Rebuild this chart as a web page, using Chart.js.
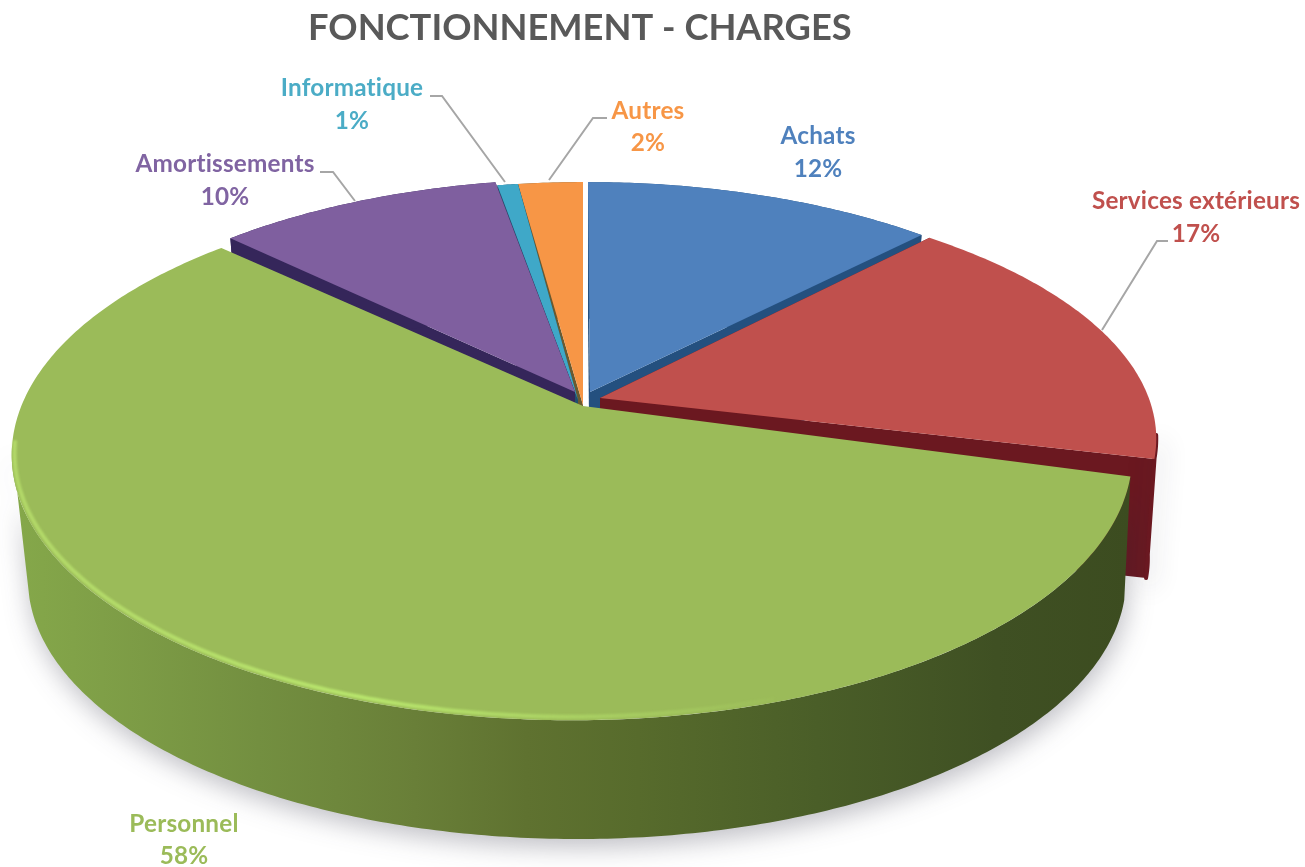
<!DOCTYPE html>
<html lang="fr">
<head>
<meta charset="utf-8">
<title>FONCTIONNEMENT - CHARGES</title>
<script src="https://cdn.jsdelivr.net/npm/chart.js@4"></script>
<style>html,body{margin:0;padding:0;background:#fff}canvas{display:block}</style>
</head>
<body>
<canvas id="c" width="1305" height="867"></canvas>
<script>
const titleText = 'FONCTIONNEMENT - CHARGES';
const categories = ['Achats', 'Services extérieurs', 'Personnel', 'Amortissements', 'Informatique', 'Autres'];
const percentages = [11.9, 17.1, 58.4, 9.7, 0.7, 2.2];
const sliceColors = ['#4f81bd', '#c0504d', '#9bbb59', '#7f5f9f', '#3fa8c8', '#f79646'];
const labelColors = ['#4f81bd', '#c0504d', '#9bbb59', '#8064a2', '#4bacc6', '#f79646'];
const wallColors = ['#24507f', '#6b1820', '#3c4c20', '#35265a', '#20506c', '#6a5a30'];

// projection of the pie plane (perspective tilt)
const CX = 572, CY = 405, R = 552, RK = 261, P = 0.171;
const DEG = Math.PI / 180;
// per-slice placement (explosion) in the projected picture
const sliceGeom = [
  {dx: 16, dy: 0,  sy: 1,     ax: 590, ay: 392, low: .97,  ldx: 0, depth: 130},
  {dx: 24, dy: -9, sy: .93,   ax: 600, ay: 398, low: .985, ldx: 0, depth: 120, wallFrom: 9 * DEG},
  {dx: 0,  dy: 4.5,sy: .987,  ax: 583, ay: 406, low: .98,  ldx: 5, depth: 125, wallUpTo: 172 * DEG, wallLoTo: 166 * DEG},
  {dx: 9,  dy: -3, sy: 1,     ax: 575, ay: 392, low: .97,  ldx: 0, depth: 130},
  {dx: 11, dy: 0,  sy: 1,     ax: 578, ay: 400, low: .97,  ldx: 0, depth: 130},
  {dx: 11, dy: 0,  sy: 1,     ax: 583, ay: 405, low: .97,  ldx: 0, depth: 130}
];
const drawOrder = [5, 4, 3, 0, 1, 2];
const labelLayout = [
  {x: 818,  y: 136, y2: 169, leader: null},
  {x: 1196, y: 201, y2: 234, leader: [[1168,241],[1157,241],[1102,330]]},
  {x: 184,  y: 824, y2: 856, leader: null},
  {x: 225,  y: 164, y2: 197, leader: [[320,172],[333,172],[355,201]]},
  {x: 352,  y: 88,  y2: 121, leader: [[430,96],[442,96],[505,182]]},
  {x: 648,  y: 111, y2: 143, leader: [[607,118],[593,118],[549,180]]}
];
const greenWallStops = [[0,'#85a84a'],[.08,'#7f9f47'],[.22,'#738f40'],[.36,'#697f38'],[.46,'#5f7230'],[.56,'#576b2c'],[.72,'#4a5e28'],[.88,'#3f5023'],[1,'#3c4c20']];

function proj(th, g, lower) {
  const c = Math.cos(th), s = Math.sin(th), w = 1 - P * s;
  let ux = R * c / w, uy = RK * g.sy * s / w;
  if (lower) { ux = ux * g.low + (g.ldx || 0); uy = uy * g.low + g.depth; }
  return [CX + g.dx + ux, CY + g.dy + uy];
}
function arcPts(a0, a1, g, lower) {
  const n = Math.max(8, Math.ceil(Math.abs(a1 - a0) * 90)), pts = [];
  for (let i = 0; i <= n; i++) pts.push(proj(a0 + (a1 - a0) * i / n, g, lower));
  return pts;
}
function poly(ctx, pts) {
  ctx.beginPath();
  pts.forEach((p, i) => i ? ctx.lineTo(p[0], p[1]) : ctx.moveTo(p[0], p[1]));
  ctx.closePath();
}

const pie3d = {
  id: 'pie3d',
  beforeDatasetsDraw(chart) {
    const ctx = chart.ctx, arcs = chart.getDatasetMeta(0).data;
    ctx.save();
    drawOrder.forEach(i => {
      const arc = arcs[i], g = sliceGeom[i];
      const a0 = arc.startAngle, a1 = arc.endAngle;
      const up = arcPts(a0, a1, g, false), lo = arcPts(a0, a1, g, true);
      const apexU = [g.ax, g.ay], apexL = [g.ax, g.ay + g.depth];
      // radial faces
      if (i !== 2) {
        ctx.fillStyle = wallColors[i];
        poly(ctx, [apexU, up[0], lo[0], apexL]); ctx.fill();
        poly(ctx, [apexU, up[up.length - 1], lo[lo.length - 1], apexL]); ctx.fill();
      }
      // outer wall
      const wFrom = g.wallFrom !== undefined ? g.wallFrom : a0;
      const wUp = g.wallUpTo || a1, wLo = g.wallLoTo || a1;
      const wall = arcPts(wFrom, wUp, g, false).concat(arcPts(wFrom, wLo, g, true).reverse());
      if (i === 1 || i === 2) {
        ctx.save();
        ctx.shadowColor = 'rgba(40,40,60,.30)';
        ctx.shadowBlur = 26;
        ctx.shadowOffsetX = 2;
        ctx.shadowOffsetY = 8;
        if (i === 2) {
          const grad = ctx.createLinearGradient(13, 0, 1130, 0);
          greenWallStops.forEach(s => grad.addColorStop(s[0], s[1]));
          ctx.fillStyle = grad;
        } else {
          ctx.fillStyle = wallColors[i];
          ctx.strokeStyle = wallColors[i];
          ctx.lineWidth = 4;
          ctx.lineJoin = 'round';
        }
        poly(ctx, wall); ctx.fill();
        if (i === 1) ctx.stroke();
        ctx.restore();
      } else {
        ctx.fillStyle = wallColors[i];
        poly(ctx, wall); ctx.fill();
      }
      // top surface
      ctx.fillStyle = sliceColors[i];
      poly(ctx, [apexU].concat(up)); ctx.fill();
      if (i === 2) {
        // bevel highlight along the near rim
        const hl = ctx.createLinearGradient(13, 0, 800, 0);
        hl.addColorStop(0, 'rgba(186,226,110,.75)');
        hl.addColorStop(.45, 'rgba(186,232,110,.95)');
        hl.addColorStop(.8, 'rgba(186,232,110,.35)');
        hl.addColorStop(1, 'rgba(186,232,110,0)');
        ctx.save();
        ctx.filter = 'blur(1px)';
        ctx.strokeStyle = hl;
        ctx.lineWidth = 4;
        ctx.beginPath();
        const rim = arcPts(Math.PI * .4, Math.PI * .96, {...g, low: .995, ldx: 0, depth: -2}, true);
        rim.forEach((p, k) => k ? ctx.lineTo(p[0], p[1]) : ctx.moveTo(p[0], p[1]));
        ctx.stroke();
        ctx.restore();
      }
    });
    ctx.restore();
    return false;
  },
  afterDraw(chart) {
    const ctx = chart.ctx;
    ctx.save();
    ctx.textAlign = 'center';
    ctx.textBaseline = 'middle';
    ctx.font = 'bold 24.3px Lato, sans-serif';
    ctx.letterSpacing = '0.2px';
    categories.forEach((name, i) => {
      const l = labelLayout[i];
      if (l.leader) {
        ctx.strokeStyle = '#a6a6a6';
        ctx.lineWidth = 2;
        ctx.beginPath();
        l.leader.forEach((p, k) => k ? ctx.lineTo(p[0], p[1]) : ctx.moveTo(p[0], p[1]));
        ctx.stroke();
      }
      ctx.fillStyle = labelColors[i];
      ctx.fillText(name, l.x, l.y);
      ctx.fillText(Math.round(percentages[i]) + '%', l.x, l.y2);
    });
    ctx.restore();
  }
};

new Chart(document.getElementById('c'), {
  type: 'pie',
  data: {
    labels: categories,
    datasets: [{ data: percentages, backgroundColor: sliceColors, borderWidth: 0 }]
  },
  options: {
    responsive: false,
    animation: false,
    layout: { padding: { left: 308 } },
    plugins: {
      legend: { display: false },
      tooltip: { enabled: false },
      title: {
        display: true,
        text: titleText,
        align: 'start',
        fullSize: false,
        color: '#595959',
        font: { family: 'Lato, sans-serif', weight: 'bold', size: 36.3 },
        padding: { top: 7, bottom: 0 }
      }
    }
  },
  plugins: [pie3d]
});
</script>
</body>
</html>
